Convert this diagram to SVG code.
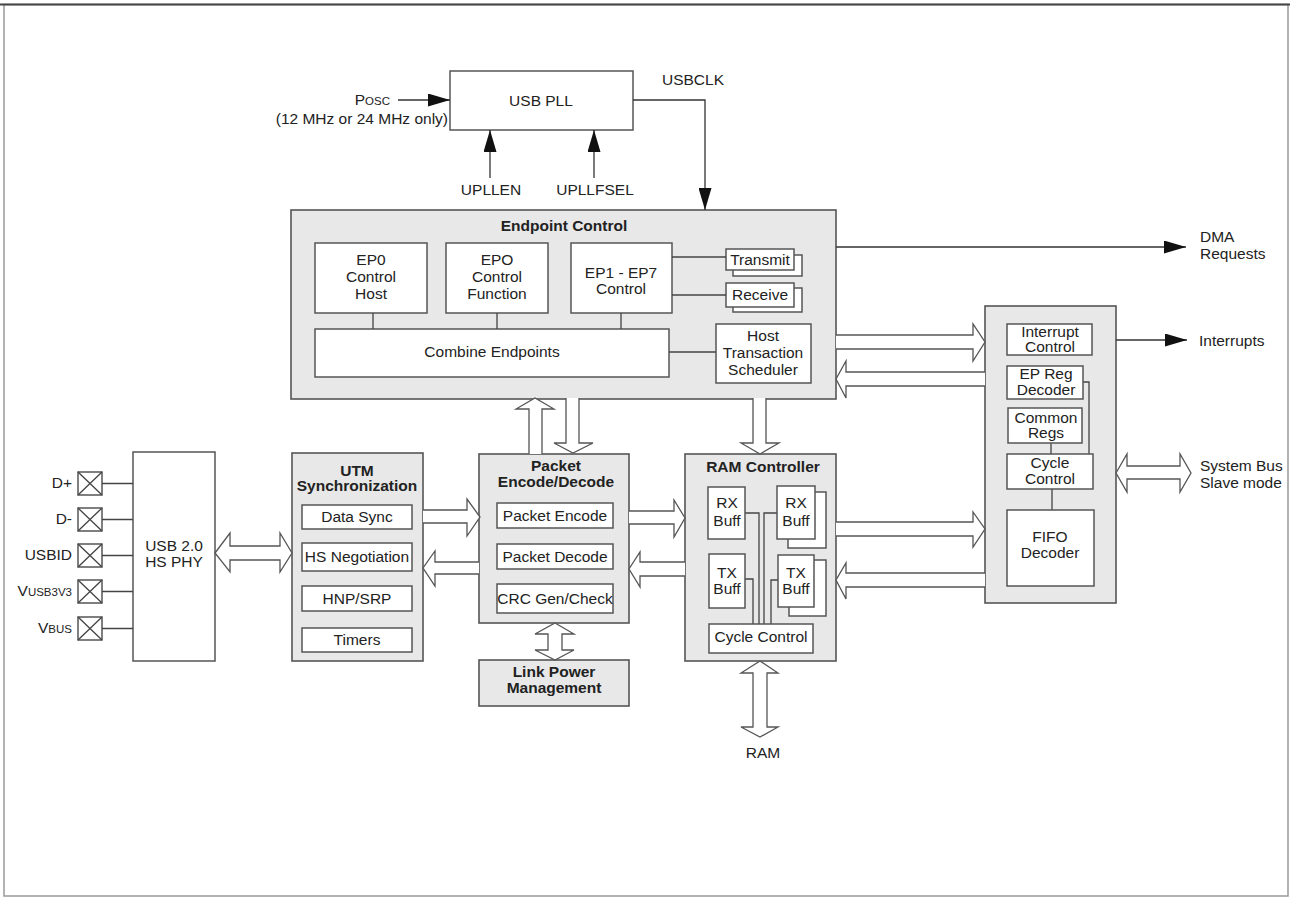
<svg xmlns="http://www.w3.org/2000/svg" width="1290" height="898" viewBox="0 0 1290 898">
<defs>
<style>
text{font-family:"Liberation Sans",Arial,sans-serif;font-size:15.5px;fill:#222}
.b{font-weight:bold}
.m{text-anchor:middle}
.e{text-anchor:end}
.sm{font-size:11.5px}
.grp{fill:#e8e8e8;stroke:#555;stroke-width:1.6}
.box{fill:#fff;stroke:#555;stroke-width:1.5}
.ln{fill:none;stroke:#444;stroke-width:1.3}
.ha{fill:#fff;stroke:#555;stroke-width:1.3}
.arr{fill:none;stroke:#333;stroke-width:1.3;marker-end:url(#ah)}
</style>
<marker id="ah" markerUnits="userSpaceOnUse" markerWidth="22" markerHeight="13" refX="22" refY="6.5" orient="auto">
<path d="M0,0 L22,6.5 L0,13 z" fill="#111"/>
</marker>
</defs>
<rect x="0" y="0" width="1290" height="898" fill="#fff"/>
<rect x="4" y="4.5" width="1284" height="891.5" fill="none" stroke="#999" stroke-width="1.5"/>
<line x1="0" y1="4.5" x2="1290" y2="4.5" stroke="#444" stroke-width="2"/>

<g id="usb-pll">
<rect class="box" x="450" y="71" width="183" height="59"/>
<text class="m" x="541" y="106">USB PLL</text>
</g>
<g id="posc-label">
<text class="e" x="390" y="105">P<tspan class="sm">OSC</tspan></text>
<text class="e" x="448" y="124">(12 MHz or 24 MHz only)</text>
</g>
<g id="upllen-label"><text class="m" x="491" y="195">UPLLEN</text></g>
<g id="upllfsel-label"><text class="m" x="595" y="195">UPLLFSEL</text></g>
<g id="usbclk-label"><text class="m" x="693" y="85">USBCLK</text></g>

<g id="endpoint-control">
<rect class="grp" x="291" y="210" width="545" height="189"/>
<text class="b m" x="564" y="231">Endpoint Control</text>
<rect class="box" x="315" y="243" width="112" height="70"/>
<text class="m" x="371" y="265">EP0</text><text class="m" x="371" y="282">Control</text><text class="m" x="371" y="299">Host</text>
<rect class="box" x="446" y="243" width="102" height="70"/>
<text class="m" x="497" y="265">EPO</text><text class="m" x="497" y="282">Control</text><text class="m" x="497" y="299">Function</text>
<rect class="box" x="571" y="243" width="101" height="70"/>
<text class="m" x="621" y="278">EP1 - EP7</text><text class="m" x="621" y="294">Control</text>
<rect class="box" x="733" y="255" width="69" height="21"/>
<rect class="box" x="726" y="249" width="68" height="21"/>
<text class="m" x="760" y="265">Transmit</text>
<rect class="box" x="733" y="288" width="69" height="24"/>
<rect class="box" x="726" y="283" width="68" height="24"/>
<text class="m" x="760" y="300">Receive</text>
<rect class="box" x="315" y="329" width="354" height="48"/>
<text class="m" x="492" y="357">Combine Endpoints</text>
<rect class="box" x="716" y="324" width="95" height="59"/>
<text class="m" x="763" y="341">Host</text><text class="m" x="763" y="358">Transaction</text><text class="m" x="763" y="375">Scheduler</text>
<path class="ln" d="M672,257 H726 M672,295 H726 M669,352 H716 M373,313 V329 M497,313 V329 M621,313 V329"/>
</g>

<g id="usb-phy">
<rect class="box" x="133" y="452" width="82" height="209"/>
<text class="m" x="174" y="551">USB 2.0</text>
<text class="m" x="174" y="567">HS PHY</text>
</g>
<g id="pins">
<g id="pin-dp"><rect class="box" x="78" y="472" width="24" height="23"/><path class="ln" d="M78,472 L102,495 M102,472 L78,495"/><text class="e" x="72" y="488">D+</text></g>
<g id="pin-dm"><rect class="box" x="78" y="508" width="24" height="23"/><path class="ln" d="M78,508 L102,531 M102,508 L78,531"/><text class="e" x="72" y="524">D-</text></g>
<g id="pin-usbid"><rect class="box" x="78" y="544" width="24" height="23"/><path class="ln" d="M78,544 L102,567 M102,544 L78,567"/><text class="e" x="72" y="560">USBID</text></g>
<g id="pin-vusb"><rect class="box" x="78" y="580" width="24" height="23"/><path class="ln" d="M78,580 L102,603 M102,580 L78,603"/><text class="e" x="72" y="596">V<tspan class="sm">USB3V3</tspan></text></g>
<g id="pin-vbus"><rect class="box" x="78" y="617" width="24" height="23"/><path class="ln" d="M78,617 L102,640 M102,617 L78,640"/><text class="e" x="72" y="633">V<tspan class="sm">BUS</tspan></text></g>
<path class="ln" d="M102,483.5 H133 M102,519.5 H133 M102,555.5 H133 M102,591.5 H133 M102,628.5 H133"/>
</g>

<g id="utm-sync">
<rect class="grp" x="292" y="453" width="131" height="208"/>
<text class="b m" x="357" y="476">UTM</text>
<text class="b m" x="357" y="491">Synchronization</text>
<rect class="box" x="302" y="505" width="110" height="24"/><text class="m" x="357" y="522">Data Sync</text>
<rect class="box" x="302" y="543" width="110" height="28"/><text class="m" x="357" y="562">HS Negotiation</text>
<rect class="box" x="302" y="586" width="110" height="25"/><text class="m" x="357" y="604">HNP/SRP</text>
<rect class="box" x="302" y="628" width="110" height="24"/><text class="m" x="357" y="645">Timers</text>
</g>

<g id="packet-encode-decode">
<rect class="grp" x="479" y="454" width="150" height="169"/>
<text class="b m" x="556" y="471">Packet</text>
<text class="b m" x="556" y="487">Encode/Decode</text>
<rect class="box" x="497" y="503" width="116" height="25"/><text class="m" x="555" y="521">Packet Encode</text>
<rect class="box" x="497" y="544" width="116" height="25"/><text class="m" x="555" y="562">Packet Decode</text>
<rect class="box" x="497" y="584" width="116" height="29"/><text class="m" x="555" y="604">CRC Gen/Check</text>
</g>

<g id="link-power-management">
<rect class="grp" x="479" y="660" width="150" height="46"/>
<text class="b m" x="554" y="677">Link Power</text>
<text class="b m" x="554" y="693">Management</text>
</g>

<g id="ram-controller">
<rect class="grp" x="685" y="454" width="151" height="207"/>
<text class="b m" x="763" y="472">RAM Controller</text>
<path class="ln" d="M745,513 H759 V624 M745,579 H753 V624 M777,513 H764 V624 M778,580 H771 V624"/>
<rect class="box" x="708" y="487" width="37" height="52"/>
<text class="m" x="727" y="508">RX</text><text class="m" x="727" y="526">Buff</text>
<rect class="box" x="788" y="492" width="38" height="56"/>
<rect class="box" x="777" y="486" width="38" height="53"/>
<text class="m" x="796" y="508">RX</text><text class="m" x="796" y="526">Buff</text>
<rect class="box" x="709" y="554" width="36" height="54"/>
<text class="m" x="727" y="578">TX</text><text class="m" x="727" y="594">Buff</text>
<rect class="box" x="789" y="560" width="37" height="56"/>
<rect class="box" x="778" y="555" width="36" height="52"/>
<text class="m" x="796" y="578">TX</text><text class="m" x="796" y="594">Buff</text>
<rect class="box" x="709" y="624" width="104" height="29"/>
<text class="m" x="761" y="642">Cycle Control</text>
</g>
<g id="ram-label"><text class="m" x="763" y="758">RAM</text></g>

<g id="interrupts-registers">
<rect class="grp" x="985" y="306" width="131" height="297"/>
<path class="ln" d="M1083,382 H1089 V454 M1051,443 V454 M1052,489 V510"/>
<rect class="box" x="1007" y="324" width="85" height="31"/>
<text class="m" x="1050" y="337">Interrupt</text><text class="m" x="1050" y="352">Control</text>
<rect class="box" x="1007" y="366" width="76" height="33"/>
<text class="m" x="1046" y="379">EP Reg</text><text class="m" x="1046" y="395">Decoder</text>
<rect class="box" x="1008" y="408" width="74" height="35"/>
<text class="m" x="1046" y="423">Common</text><text class="m" x="1046" y="438">Regs</text>
<rect class="box" x="1007" y="454" width="86" height="35"/>
<text class="m" x="1050" y="468">Cycle</text><text class="m" x="1050" y="484">Control</text>
<rect class="box" x="1007" y="510" width="87" height="76"/>
<text class="m" x="1050" y="542">FIFO</text><text class="m" x="1050" y="558">Decoder</text>
</g>

<g id="output-labels">
<text x="1200" y="242">DMA</text>
<text x="1200" y="259">Requests</text>
<text x="1199" y="346">Interrupts</text>
<text x="1200" y="471">System Bus</text>
<text x="1200" y="488">Slave mode</text>
</g>

<g id="connectors">
<line class="arr" x1="398" y1="100" x2="450" y2="100"/>
<line class="arr" x1="490" y1="178" x2="490" y2="130"/>
<line class="arr" x1="594" y1="178" x2="594" y2="130"/>
<polyline class="arr" points="633,100 705,100 705,210"/>
<line class="arr" x1="836" y1="247" x2="1186" y2="247"/>
<line class="arr" x1="1116" y1="340" x2="1187" y2="340"/>
<path class="ha" d="M836,335 H973 V324 L985,342 L973,361 V349 H836"/>
<path class="ha" d="M985,372 H846 V361 L836,379 L846,398 V386 H985"/>
<path class="ha" d="M836,522 H973 V512 L985,529 L973,547 V536 H836"/>
<path class="ha" d="M985,573 H846 V563 L836,580 L846,599 V587 H985"/>
<path class="ha" d="M423,510 H467 V499 L480,517 L467,536 V523 H423"/>
<path class="ha" d="M479,562 H435 V551 L423,568 L435,586 V574 H479"/>
<path class="ha" d="M629,511 H674 V500 L685,518 L674,537 V524 H629"/>
<path class="ha" d="M685,562 H640 V552 L629,569 L640,587 V576 H685"/>
<path class="ha" d="M215,553 L230,533 V546 H280 V533 L292,553 L280,572 V560 H230 V572 Z"/>
<path class="ha" d="M1116,473 L1127,454 V466 H1180 V454 L1191,473 L1180,492 V479 H1127 V492 Z"/>
<path class="ha" d="M529,454 V409 H516 L535,398 L554,409 H542 V454"/>
<path class="ha" d="M566,398 V443 H554 L573,453 L593,443 H579 V398"/>
<path class="ha" d="M753,398 V443 H741 L760,454 L779,443 H766 V398"/>
<path class="ha" d="M555,623 L574,634 H562 V650 H574 L555,660 L535,650 H548 V634 H535 Z"/>
<path class="ha" d="M760,661 L778,673 H767 V727 H778 L760,737 L741,727 H753 V673 H741 Z"/>
</g>
</svg>
